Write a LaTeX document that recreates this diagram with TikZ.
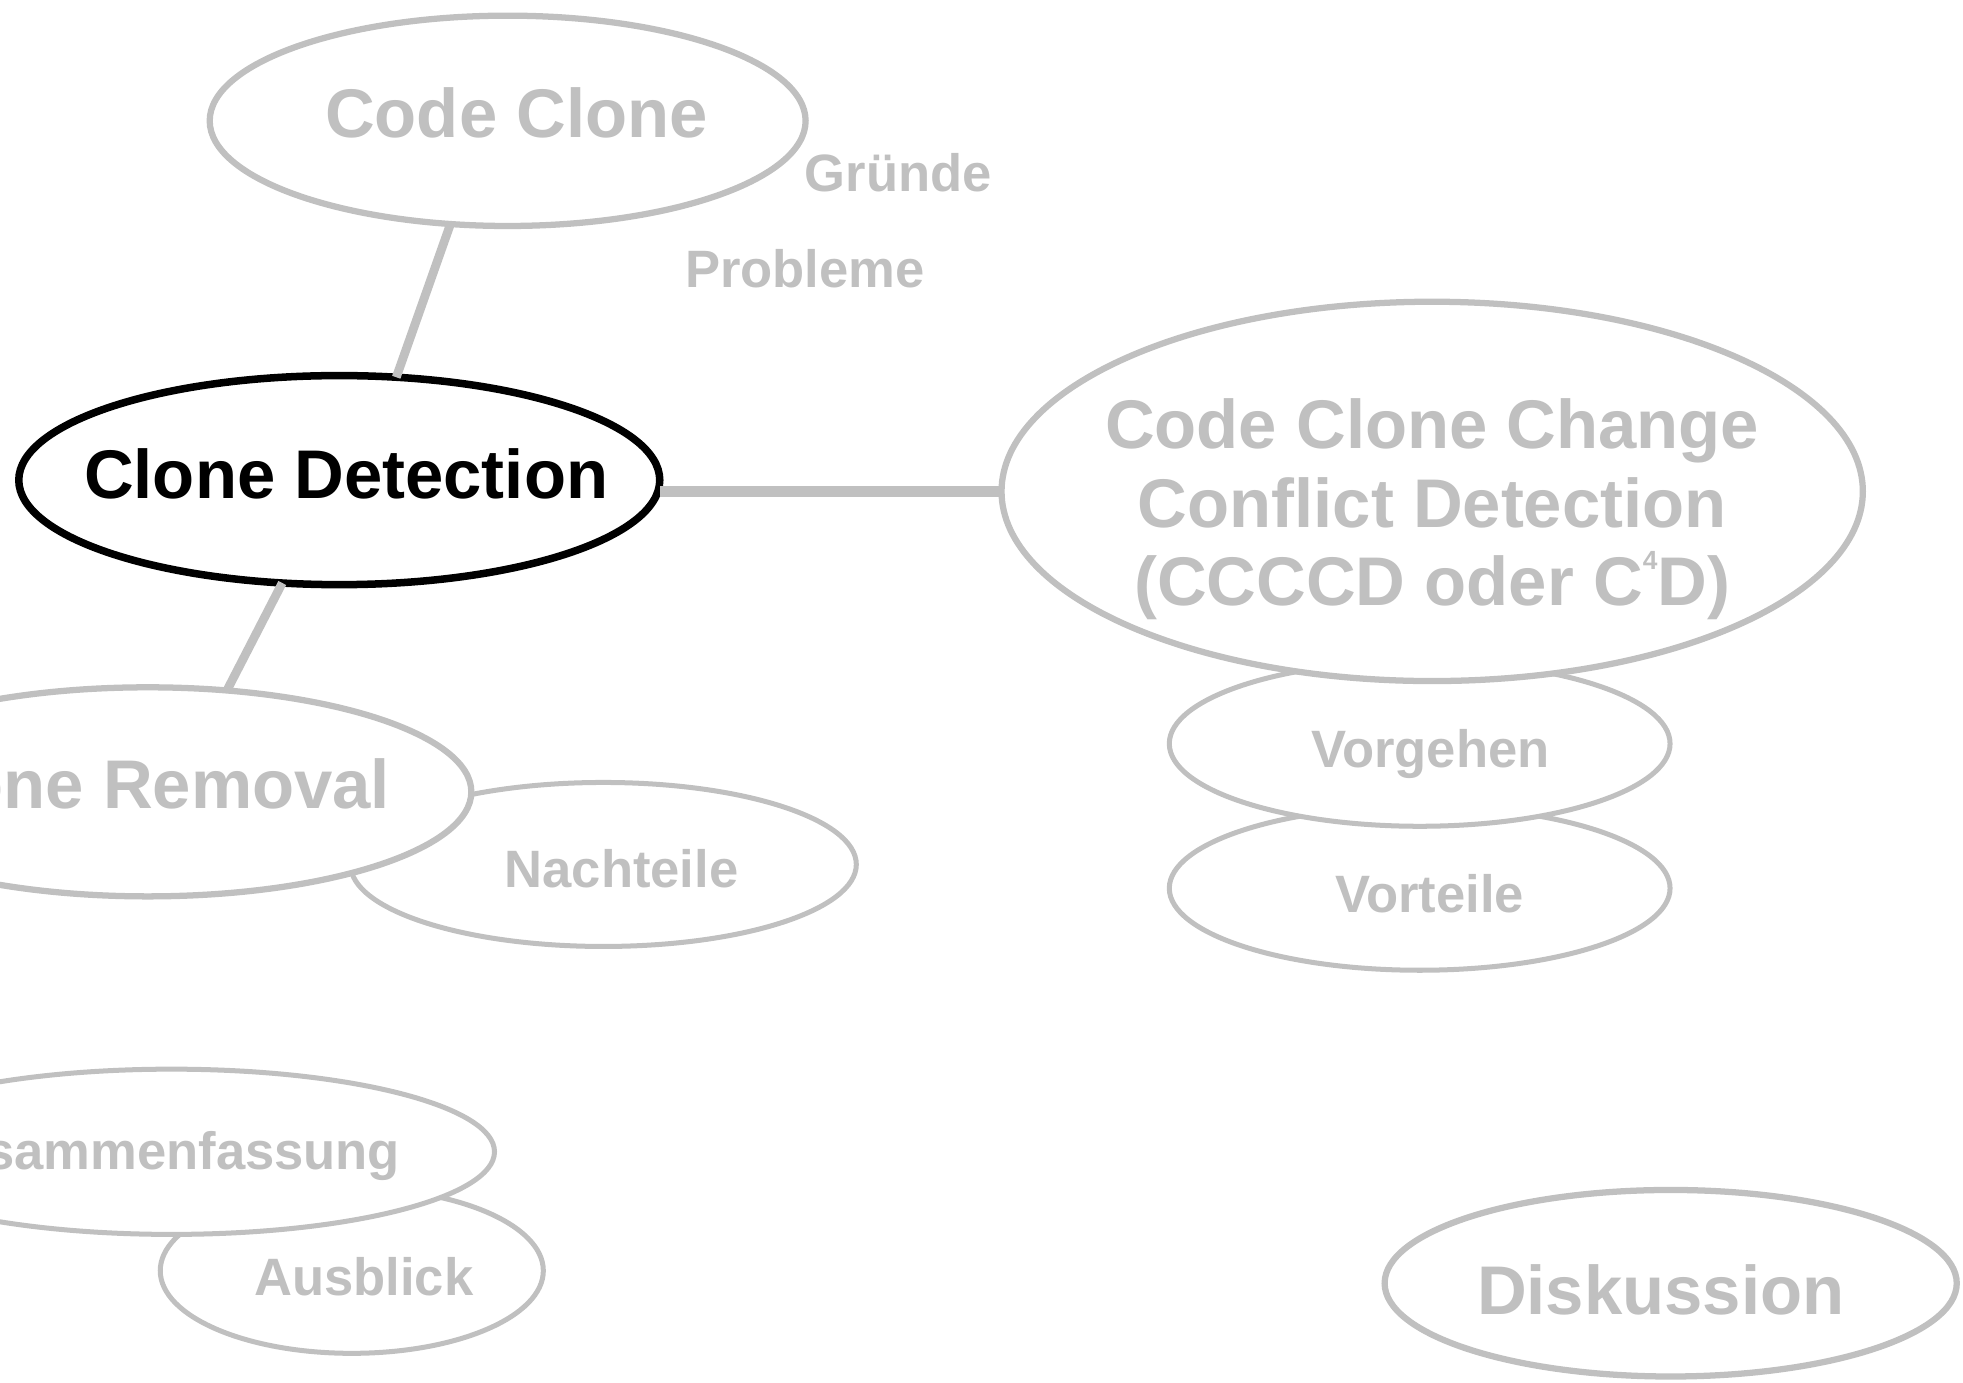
\documentclass[tikz,border=0pt]{standalone}
\usepackage{fontspec}
\setmainfont{Liberation Sans}[Ligatures=NoCommon]
\usetikzlibrary{shapes.geometric}
\definecolor{lgrey}{RGB}{192,192,192}
\begin{document}
\begin{tikzpicture}[x=0.5pt,y=-0.5pt,
  oval/.style={ellipse, draw=lgrey, fill=white, line width=2pt, inner sep=0pt, outer sep=0pt},
  bigoval/.style={oval, line width=2.5pt},
  big/.style={font=\fontsize{27.5}{31.5}\selectfont\bfseries, text=lgrey, inner sep=0pt, anchor=base},
  small/.style={font=\fontsize{21}{25}\selectfont\bfseries, text=lgrey, inner sep=0pt, anchor=base},
  conn/.style={draw=lgrey, line width=3.5pt}]
\useasboundingbox (0,0) rectangle (1568,1104);
\clip (0,0) rectangle (1568,1104);
% ellipses (back to front)
\node[oval, minimum width=200pt, minimum height=65.5pt] (vt) at (1134,709.5) {};
\node[oval, minimum width=200pt, minimum height=66pt] (vg) at (1134,594) {};
\node[bigoval, minimum width=344pt, minimum height=151.5pt] (ccccd) at (1144,392.5) {};
\node[oval, minimum width=202pt, minimum height=65.5pt] (nt) at (482,690.5) {};
\node[bigoval, minimum width=258.5pt, minimum height=83.5pt] (cr) at (118,632.5) {};
\node[oval, minimum width=153pt, minimum height=66pt] (au) at (281,1015) {};
\node[oval, minimum width=258pt, minimum height=66pt] (zu) at (137,920) {};
\node[bigoval, minimum width=238pt, minimum height=84pt] (cc) at (405.5,96.5) {};
\node[oval, draw=black, line width=3pt, minimum width=256pt, minimum height=83.5pt] (cd) at (271,383.5) {};
\node[bigoval, minimum width=228.5pt, minimum height=74.5pt] (di) at (1334.5,1025) {};
% connectors
\draw[conn] (cc.-119) -- (cd.61.5);
\draw[conn] (cd.-119.5) -- (cr.52);
\draw[conn, line width=4.5pt] (ccccd.west) -- (ccccd.west -| cd.east);
% texts
\node[big] (tcc) at (412.5,110) {Code Clone};
\node[small] (tgr) at (717.5,153) {Gründe};
\node[small] (tpr) at (643,230) {Probleme};
\node[big, text=black] (tcd) at (276.5,398) {Clone Detection};
\node[big] (tc1) at (1144,358) {Code Clone Change};
\node[big] (tc2) at (1144,421) {Conflict Detection};
\node[big] (tc3) at (1144,484) {(CCCCD oder C\raisebox{14.5pt}{\fontsize{10.5}{10.5}\selectfont 4}D)};
\node[small] (tvg) at (1142.5,613) {Vorgehen};
\node[small] (tvt) at (1142,729) {Vorteile};
\node[big, anchor=base east] (tcr) at (312,646) {Clone Removal};
\node[small] (tnt) at (496.5,709) {Nachteile};
\node[small, anchor=base east] (tzu) at (320,934) {Zusammenfassung};
\node[small] (tau) at (290.5,1035) {Ausblick};
\node[big] (tdi) at (1326.5,1050) {Diskussion};
\end{tikzpicture}
\end{document}
